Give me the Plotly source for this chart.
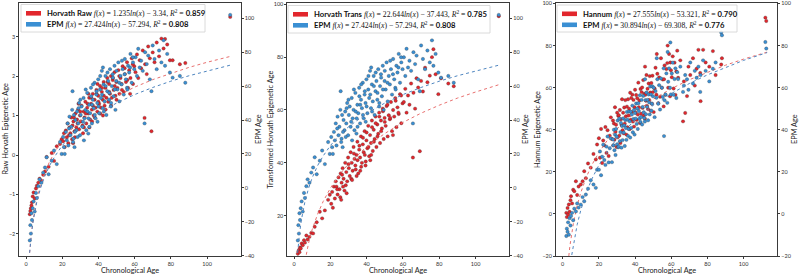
import plotly.graph_objects as go

# ---------------- data: panels 1 & 2 (same samples) ----------------
AGE_A = [2.1, 2.4, 2.7, 3.0, 3.3, 3.7, 4.2, 4.8, 5.5, 6.0, 6.8, 7.5, 8.5, 9.5, 10.5, 11.4, 12.5, 14.2, 15.5, 17.0, 18.8, 19.7,
         20.5, 21.0, 21.4, 22.0, 22.5, 23.0, 23.4, 24.0, 24.5, 25.0, 25.5, 25.7, 26.2, 26.8, 27.3, 27.8, 28.2, 28.8, 29.3, 29.8,
         30.2, 30.7, 31.2, 31.8, 32.3, 32.8, 33.3, 33.8, 34.4, 34.9, 35.4, 35.9, 36.4, 36.9, 37.4, 37.9, 38.4, 38.9, 39.4, 39.9,
         40.4, 40.9, 41.4, 41.9, 42.4, 42.9, 43.4, 43.9, 44.4, 44.9, 45.4, 45.9, 46.4, 46.9, 47.4, 47.9, 48.4, 48.9, 49.4, 49.9,
         50.5, 51.0, 51.6, 52.2, 52.8, 53.4, 54.0, 54.6, 55.2, 55.8, 56.4, 57.0, 57.7, 58.4, 59.1, 59.8,
         60.5, 61.3, 62.0, 62.8, 63.6, 64.5, 65.5, 65.8, 66.7, 67.5, 68.4, 69.3, 70.0, 71.0, 72.2, 73.5, 74.8, 76.0, 76.8, 78.0,
         79.5, 81.0, 85.0, 88.0, 112.8,
         23.8, 26.5, 28.5, 30.0, 31.5, 33.0, 34.0, 35.0, 36.0, 37.0, 38.0, 39.0, 40.0, 41.0, 42.0, 43.0, 44.0, 45.0, 46.0, 47.0,
         48.0, 49.0, 50.0, 51.5, 53.0, 54.5, 56.0, 57.5, 59.0,
         26.0, 27.0, 29.0, 32.0, 34.5, 36.5, 39.5, 42.5]

HORVATH_RAW = [-1.50, -1.42, -1.35, -1.28, -1.20, -1.05, -0.95, -1.10, -0.85, -0.78, -0.70, -0.60, -0.65, -0.50, -0.42, -0.05,
               -0.30, 0.05, -0.15, 0.22, 0.28, 0.40,
               0.35, 0.55, 0.20, 0.62, 0.45, 0.80, 0.30, 0.70, 0.55, 0.95, 0.40, 0.75, 0.85, 0.60, 1.05, 0.70, 0.90, 1.15, 0.65, 1.00,
               0.85, 1.25, 0.75, 1.10, 0.95, 1.35, 0.80, 1.20, 1.05, 1.45, 0.90, 1.30, 1.15, 1.55, 1.00, 1.40, 1.20, 1.65, 1.10, 1.50,
               1.30, 1.75, 1.20, 1.60, 1.40, 1.85, 1.25, 1.70, 1.45, 1.95, 1.35, 1.80, 1.55, 2.00, 1.45, 1.90, 1.65, 2.10, 1.50, 1.85,
               1.70, 2.15, 1.55, 1.95, 1.80, 2.25, 1.60, 2.05, 1.85, 2.35, 1.70, 2.15, 1.95, 2.45, 1.80, 2.25,
               2.10, 2.55, 1.95, 2.40, 2.20, 2.65, 0.94, 2.30, 2.05, 2.75, 2.45, 0.60, 2.60, 2.35, 2.85, 2.50, 2.95, 2.70, 2.94, 2.80,
               2.40, 2.40, 2.30, 2.33, 3.50,
               0.50, 0.95, 0.80, 1.10, 0.55, 1.05, 1.30, 0.70, 1.45, 1.25, 0.95, 1.55, 1.35, 1.05, 1.70, 1.50, 1.15, 1.85, 1.60, 1.25,
               1.95, 1.75, 1.40, 2.00, 1.65, 2.20, 1.90, 1.55, 2.30,
               0.30, 0.45, 1.30, 0.70, 1.55, 0.85, 1.80, 1.00]

HORVATH_TRANS = [5.6, 6.5, 7.0, 6.2, 8.0, 7.6, 9.5, 8.8, 10.7, 9.8, 12.5, 11.0, 12.0, 13.5, 13.3, 15.8, 17.5, 21.5, 19.0, 22.0, 26.0, 27.9,
                 24.5, 29.0, 23.0, 31.0, 26.5, 33.0, 31.0, 28.0, 34.5, 30.0, 27.0, 36.0, 32.5, 38.0, 34.0, 29.5, 40.0, 36.5, 33.0, 42.0,
                 38.0, 35.0, 44.0, 40.0, 37.0, 46.0, 41.5, 39.0, 43.0, 48.0, 36.0, 45.0, 42.0, 50.0, 40.0, 47.0, 44.0, 52.0, 39.0, 48.5,
                 45.5, 54.0, 42.5, 50.5, 47.5, 56.0, 44.5, 52.5, 49.0, 57.5, 46.0, 54.5, 51.0, 59.0, 47.5, 56.0, 53.0, 60.5, 49.0, 57.0,
                 54.0, 61.5, 50.0, 58.0, 56.5, 63.0, 52.0, 60.0, 57.5, 64.5, 53.5, 61.0, 58.5, 66.0, 55.0, 62.5,
                 63.0, 68.0, 59.0, 65.5, 62.0, 70.0, 42.0, 66.5, 60.5, 72.0, 68.5, 44.4, 71.0, 67.0, 76.0, 70.5, 73.0, 80.0, 83.0, 73.5,
                 66.0, 72.0, 70.0, 69.0, 95.5,
                 30.0, 35.5, 31.5, 39.5, 34.0, 43.5, 37.5, 41.0, 46.5, 38.5, 49.5, 43.0, 51.5, 46.0, 41.0, 53.5, 48.0, 55.0, 50.0, 57.5,
                 52.0, 59.5, 55.5, 62.0, 57.0, 50.5, 63.5, 59.0, 65.5,
                 26.0, 31.0, 28.5, 33.5, 35.0, 37.0, 40.5, 43.0]

EPM_A = [-31, -22, -27, -15, -19, -12, -8, -14, -3, -6, 1, 5, 3, 9, 12, 18, 8, 16, 22, 14, 27, 20,
         30, 24, 20, 33, 28, 38, 25, 42, 31, 36, 46, 57, 29, 24, 40, 34, 45, 38, 50, 31,
         43, 48, 36, 53, 41, 46, 34, 56, 32, 49, 44, 59, 38, 52, 47, 62, 41, 55, 50, 64,
         44, 58, 53, 69, 47, 61, 51, 66, 43, 57, 63, 52, 70, 48, 60, 67, 54, 72, 46, 63,
         58, 74, 51, 66, 61, 70, 55, 76, 64, 59, 72, 68, 79, 62, 74, 70,
         77, 66, 82, 71, 75, 69, 38, 80, 73, 78, 64, 57, 84, 76, 70, 81, 74, 87, 72, 79,
         68, 65, 66, 62, 102,
         35, 43, 30, 52, 39, 58, 45, 36, 54, 61, 43, 57, 48, 66, 55, 45, 60, 68, 56, 50,
         65, 58, 69, 62, 75, 67, 58, 71, 77,
         27, 33, 47, 28, 41, 49, 39, 71]

# ---------------- data: panel 3 ----------------
AGE_B = [2.0, 2.3, 2.7, 3.0, 3.4, 3.8, 4.3, 4.6, 5.2, 5.8, 6.4, 7.3, 8.0, 8.8, 10.0, 11.0, 11.9, 12.8, 14.0, 15.5, 17.0, 18.3, 19.0,
         20.0, 20.6, 21.2, 21.8, 22.4, 23.0, 23.6, 24.2, 24.8, 25.4, 26.0, 26.6, 27.2, 27.8,
         28.0, 28.3, 28.6, 28.9, 29.2, 29.5, 29.8, 30.1, 30.4, 30.7,
         31.0, 31.3, 31.6, 31.9, 32.2, 32.5, 32.8, 33.1, 33.4, 33.7, 34.0, 34.3, 34.6, 34.9, 35.2, 35.5, 35.8, 36.1, 36.4, 36.7,
         37.0, 37.3, 37.6, 37.9,
         38.2, 38.5, 38.8, 39.1, 39.4, 39.7, 40.0, 40.3, 40.6, 40.9, 41.2, 41.5, 41.8, 42.1, 42.4, 42.7, 43.0, 43.3, 43.6, 43.9,
         44.2, 44.5, 44.8, 45.1,
         45.4, 45.7, 46.0, 46.3, 46.6, 46.9, 47.2, 47.5, 47.8, 48.1, 48.4, 48.7, 49.0, 49.3, 49.6, 49.9,
         50.3, 50.8, 51.3, 51.8, 52.3, 52.8, 53.3, 53.8, 54.3, 54.8, 55.3, 55.8, 56.3, 56.8, 57.3, 57.8, 58.3, 58.8, 59.3, 59.8,
         60.3, 60.8, 61.3, 61.8, 62.3, 62.8, 63.3, 63.8,
         65.0, 66.5, 67.0, 67.7, 68.7, 69.5, 70.5, 72.0, 73.0, 74.0, 75.0, 76.0, 76.2, 77.6, 79.0, 81.0, 83.0, 84.5, 87.6, 88.0,
         112.0, 112.5, 59.5, 56.0, 45.5, 52.0, 58.0]

HANNUM = [0.5, -1.5, 2.8, -0.3, 4.5, 1.0, 6.5, 8.4, 5.0, 11.5, 10.8, 15.5, 9.0, 13.0, 14.0, 15.5, 20.3, 17.0, 24.0, 22.0, 28.5, 25.9, 33.0,
          36.0, 26.7, 40.4, 24.2, 34.9, 32.6, 41.3, 29.0, 39.8, 27.5, 37.2, 45.9, 35.6, 44.4,
          32.6, 43.0, 35.3, 50.7, 39.0, 42.4, 31.8, 48.1, 36.4, 46.6,
          46.9, 37.2, 49.4, 33.7, 45.0, 42.3, 54.5, 39.8, 48.1, 38.3, 50.6, 42.9, 54.1, 46.4, 37.7, 51.0, 41.2, 54.5, 46.8, 50.0,
          40.3, 57.6, 44.8, 55.1,
          48.4, 56.7, 43.9, 54.2, 41.5, 50.7, 59.0, 48.2, 56.5, 44.7, 55.0, 47.2, 62.4, 50.7, 53.9, 43.2, 59.4, 47.6, 57.9, 60.1,
          50.4, 63.6, 46.8, 57.1,
          45.3, 56.6, 53.8, 66.0, 51.3, 59.5, 49.8, 62.0, 54.2, 65.5, 57.7, 49.0, 62.2, 52.4, 65.7, 57.9,
          48.4, 59.6, 69.5, 56.7, 66.6, 52.6, 64.9, 55.7, 74.0, 60.0, 63.9, 51.1, 70.6, 56.6, 68.9, 71.7, 60.0, 76.0, 55.9, 68.3,
          65.0, 74.9, 59.6, 71.9, 56.6, 67.7, 77.6, 64.7,
          73.0, 44.0, 63.0, 48.0, 56.0, 70.0, 66.0, 74.0, 61.0, 69.0, 78.0, 67.0, 53.6, 78.0, 72.0, 70.0, 77.4, 66.0, 71.0, 74.0,
          93.3, 91.7, 72.0, 64.0, 70.0, 76.0, 80.0]

EPM_B = [-10.5, -7.0, -8.5, -4.0, -9.9, -2.0, -5.5, -1.0, 0.5, -3.0, 2.5, 1.2, 5.0, 3.0, 4.4, 8.0, 6.0, 9.2, 12.0, 16.0, 14.0, 12.4, 21.0,
         21.0, 29.7, 18.4, 27.2, 32.9, 25.6, 23.3, 32.0, 36.8, 24.5, 31.2, 35.9, 24.6, 35.4,
         32.6, 40.0, 30.3, 37.7, 28.0, 40.4, 36.8, 33.1, 44.4, 31.7,
         32.0, 45.3, 34.6, 38.9, 43.2, 31.5, 41.8, 35.1, 45.4, 38.7, 42.0, 32.3, 44.6, 40.9, 35.2, 48.5, 44.8, 37.1, 40.4, 48.7,
         44.0, 36.3, 48.6, 40.9,
         47.2, 51.5, 38.8, 45.1, 49.4, 37.7, 48.0, 45.3, 52.5, 42.8, 50.1, 40.4, 52.6, 48.9, 45.2, 56.4, 43.7, 46.0, 54.2, 42.5,
         50.8, 56.1, 48.3, 45.6,
         43.9, 54.1, 47.4, 57.7, 50.9, 54.2, 44.5, 56.8, 53.0, 47.3, 60.6, 56.8, 49.1, 52.4, 60.6, 55.9,
         60.0, 46.0, 58.4, 55.2, 64.0, 52.4, 61.2, 49.6, 64.4, 60.0, 55.6, 69.2, 54.0, 56.8, 66.8, 52.8, 62.8, 69.2, 60.0, 56.8,
         66.8, 71.9, 56.6, 64.1, 69.2, 55.1, 67.4, 64.1,
         70.0, 58.0, 61.0, 66.0, 64.0, 59.0, 72.0, 62.0, 68.0, 64.7, 70.0, 58.0, 66.0, 73.0, 68.0, 63.0, 69.0, 72.0, 86.2, 84.9,
         81.7, 78.6, 81.5, 37.0, 64.0, 74.0, 77.0]

# ---------------- fitted log curves ----------------
FIT_X = [2, 2.5, 3, 4, 5, 6, 8, 10, 13, 16, 20, 25, 30, 40, 50, 60, 70, 80, 90, 100, 113]
FIT_RAW = [-2.48, -2.21, -1.98, -1.63, -1.35, -1.13, -0.77, -0.50, -0.17, 0.08, 0.36, 0.64, 0.86, 1.22, 1.49, 1.72,
           1.91, 2.07, 2.22, 2.35, 2.50]
FIT_EPM_A = [-38.3, -32.2, -27.2, -19.3, -13.2, -8.2, -0.3, 5.9, 13.1, 18.7, 24.9, 31.0, 36.0, 43.9, 50.0, 55.0,
             59.2, 62.9, 66.1, 69.0, 72.4]
FIT_TRANS = [-21.8, -16.7, -12.6, -6.1, -1.0, 3.1, 9.6, 14.7, 20.6, 25.3, 30.4, 35.5, 39.6, 46.1, 51.1, 55.3,
             58.8, 61.8, 64.5, 66.8, 69.6]
FIT_HANNUM = [-34.2, -28.1, -23.1, -15.1, -9.0, -4.0, 4.0, 10.1, 17.4, 23.1, 29.2, 35.4, 40.4, 48.3, 54.5, 59.5,
              63.8, 67.4, 70.7, 73.6, 76.9]
FIT_EPM_B = [-47.9, -41.0, -35.4, -26.5, -19.6, -14.0, -5.1, 1.8, 9.9, 16.4, 23.2, 30.1, 35.8, 44.7, 51.6, 57.2,
             62.0, 66.1, 69.7, 73.0, 76.7]

# legend texts
NAMES = [("Horvath Raw", "EPM"), ("Horvath Trans", "EPM"), ("Hannum", "EPM")]
COEF = [(("1.235", "3.34", "0.859"), ("27.424", "57.294", "0.808")),
        (("22.644", "37.443", "0.785"), ("27.424", "57.294", "0.808")),
        (("27.555", "53.321", "0.790"), ("30.894", "69.308", "0.776"))]
Y_TITLES = ["Raw Horvath Epigenetic Age", "Transformed Horvath Epigenetic Age", "Hannum Epigenetic Age"]
X_TITLE = "Chronological Age"
R_TITLE = "EPM Age"

RED = "#e2272d"
BLUE = "#3a8fd3"
RED_LINE = "#e8706f"
BLUE_LINE = "#4f86c0"

W, H = 800, 275


def px(x):
    return x / W


def py(y):
    return 1 - y / H


fig = go.Figure()

panels = [
    dict(xa="x", yl="y", yr="y2", left=(AGE_A, HORVATH_RAW, FIT_RAW), right=(AGE_A, EPM_A, FIT_EPM_A)),
    dict(xa="x2", yl="y3", yr="y4", left=(AGE_A, HORVATH_TRANS, FIT_TRANS), right=(AGE_A, EPM_A, FIT_EPM_A)),
    dict(xa="x3", yl="y5", yr="y6", left=(AGE_B, HANNUM, FIT_HANNUM), right=(AGE_B, EPM_B, FIT_EPM_B)),
]

mk_line = dict(color="rgba(50,50,50,0.7)", width=0.4)
MS = 3.4
for p in panels:
    ax, ay, afit = p["left"]
    fig.add_trace(go.Scatter(x=ax, y=ay, mode="markers", xaxis=p["xa"], yaxis=p["yl"],
                             marker=dict(color=RED, size=MS, line=mk_line), showlegend=False))
    fig.add_trace(go.Scatter(x=FIT_X, y=afit, mode="lines", xaxis=p["xa"], yaxis=p["yl"],
                             line=dict(color=RED_LINE, width=1, dash="dot"), showlegend=False))
    bx, by, bfit = p["right"]
    fig.add_trace(go.Scatter(x=bx, y=by, mode="markers", xaxis=p["xa"], yaxis=p["yr"],
                             marker=dict(color=BLUE, size=MS, line=mk_line), showlegend=False))
    fig.add_trace(go.Scatter(x=FIT_X, y=bfit, mode="lines", xaxis=p["xa"], yaxis=p["yr"],
                             line=dict(color=BLUE_LINE, width=1, dash="dot"), showlegend=False))

ydom = [py(256), py(2.7)]
xdoms = [[px(19.3), px(240.7)], [px(287.3), px(509.3)], [px(556), px(777.3)]]
xrng = [-3.7, 118.6]

axis_common = dict(showline=True, linecolor="#3a3a3a", linewidth=0.8, mirror=True, ticks="outside",
                   ticklen=2, tickwidth=0.6, tickcolor="#3a3a3a", showgrid=False, zeroline=False,
                   tickfont=dict(family="Lato", size=5.5, color="#333"), automargin=False)

fig.update_layout(
    xaxis=dict(domain=xdoms[0], range=xrng, anchor="y", tickvals=[0, 20, 40, 60, 80, 100], **axis_common),
    yaxis=dict(domain=ydom, range=[-2.56, 3.86], anchor="x", tickvals=[-2, -1, 0, 1, 2, 3], **axis_common),
    yaxis2=dict(range=[-40.2, 109.2], overlaying="y", side="right", anchor="x",
                tickvals=[-40, -20, 0, 20, 40, 60, 80, 100], **axis_common),
    xaxis2=dict(domain=xdoms[1], range=xrng, anchor="y3", tickvals=[0, 20, 40, 60, 80, 100], **axis_common),
    yaxis3=dict(domain=ydom, range=[4.75, 100.6], anchor="x2", tickvals=[20, 40, 60, 80, 100], **axis_common),
    yaxis4=dict(range=[-40.2, 109.2], overlaying="y3", side="right", anchor="x2",
                tickvals=[-40, -20, 0, 20, 40, 60, 80, 100], **axis_common),
    xaxis3=dict(domain=xdoms[2], range=xrng, anchor="y5", tickvals=[0, 20, 40, 60, 80, 100], **axis_common),
    yaxis5=dict(domain=ydom, range=[-20, 100.4], anchor="x3", tickvals=[-20, 0, 20, 40, 60, 80, 100], **axis_common),
    yaxis6=dict(range=[-20, 100.4], overlaying="y5", side="right", anchor="x3",
                tickvals=[-20, 0, 20, 40, 60, 80, 100], **axis_common),
    width=W, height=H, margin=dict(l=0, r=0, t=0, b=0),
    paper_bgcolor="white", plot_bgcolor="white", showlegend=False,
)

# axis titles
title_font = dict(family="Lato", size=7.3, color="#222")
x_centers = [130, 398.3, 666.7]
left_title_x = [5, 270, 537.5]
right_title_x = [258.5, 525.5, 794.5]
for i in range(3):
    fig.add_annotation(x=px(x_centers[i]), y=py(270.3), xref="paper", yref="paper", text=X_TITLE,
                       showarrow=False, font=title_font, xanchor="center", yanchor="middle")
    fig.add_annotation(x=px(left_title_x[i]), y=py(129.4), xref="paper", yref="paper", text=Y_TITLES[i],
                       showarrow=False, font=title_font, textangle=-90, xanchor="center", yanchor="middle")
    fig.add_annotation(x=px(right_title_x[i]), y=py(129.4), xref="paper", yref="paper", text=R_TITLE,
                       showarrow=False, font=title_font, textangle=-90, xanchor="center", yanchor="middle")

# legends (drawn as box + patches + text)
leg_boxes = [(21, 4.5, 205, 32), (288, 5.5, 490, 33), (557, 5, 737, 32)]
for i, (x0, y0, x1, y1) in enumerate(leg_boxes):
    fig.add_shape(type="rect", xref="paper", yref="paper", x0=px(x0), y0=py(y1), x1=px(x1), y1=py(y0),
                  line=dict(color="#d0d0d0", width=0.8), fillcolor="rgba(255,255,255,0.85)", layer="above")
    rows = [(RED, NAMES[i][0], COEF[i][0]), (BLUE, NAMES[i][1], COEF[i][1])]
    for r, (col, name, (a, b, r2)) in enumerate(rows):
        yc = y0 + 8.8 + r * 11.0
        fig.add_shape(type="rect", xref="paper", yref="paper", x0=px(x0 + 5), x1=px(x0 + 20),
                      y0=py(yc + 2.3), y1=py(yc - 2.3), line=dict(width=0), fillcolor=col, layer="above")
        txt = (f'<b>{name}</b> <span style="font-family:Liberation Serif"><i>f</i>(<i>x</i>) = {a}<i>ln</i>(<i>x</i>) '
               f'− {b}, <i>R</i><sup>2</sup> = </span><b>{r2}</b>')
        fig.add_annotation(x=px(x0 + 24), y=py(yc), xref="paper", yref="paper", text=txt, showarrow=False,
                           xanchor="left", yanchor="middle", font=dict(family="Lato", size=7.7, color="#111"))

fig.write_html("out.html", config={"displayModeBar": False},
               post_script="document.body.style.margin='0px';document.body.style.overflow='hidden';")
